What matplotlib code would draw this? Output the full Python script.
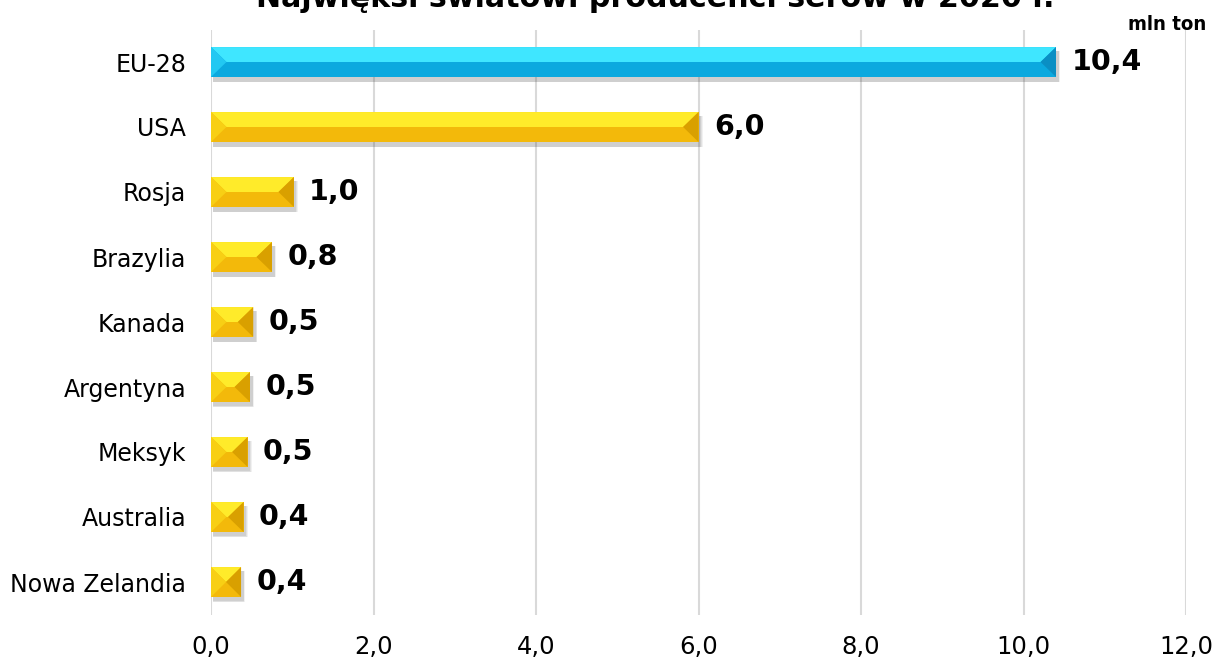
import numpy as np
import matplotlib.pyplot as plt
from matplotlib.patches import Polygon, Rectangle

# Data (mln ton)
countries = ["EU-28", "USA", "Rosja", "Brazylia", "Kanada", "Argentyna",
             "Meksyk", "Australia", "Nowa Zelandia"]
values = [10.4, 6.0, 1.02, 0.75, 0.52, 0.48, 0.45, 0.40, 0.37]
labels = ["10,4", "6,0", "1,0", "0,8", "0,5", "0,5", "0,5", "0,4", "0,4"]
xticks = [0, 2, 4, 6, 8, 10, 12]

blue = {"top": "#3FE6FF", "bottom": "#0BA9DF", "left": "#22C8F2", "right": "#0A8FC4"}
gold = {"top": "#FFEB2A", "bottom": "#F3B90A", "left": "#F8CF14", "right": "#D9A000"}

fig = plt.figure(figsize=(12.17, 6.59), dpi=100)
ax = fig.add_axes([211 / 1217, 1 - 614.5 / 659, 975 / 1217, 585 / 659])

n = len(countries)
ypos = np.arange(n)
h = 0.46
bevel = 0.19

for y, v, lab in zip(ypos, values, labels):
    c = blue if y == 0 else gold
    top, bot, mid = y - h / 2, y + h / 2, y
    d = min(bevel, v / 2)
    # soft shadow
    for k, a in zip([0.10, 0.07, 0.04], [0.08, 0.10, 0.12]):
        ax.add_patch(Rectangle((0.02, top + 0.06), v + k * 0.3, h + k * 0.25,
                               color="#555555", alpha=a, lw=0, zorder=2))
    ax.add_patch(Rectangle((0, top), v, h, color=c["bottom"], lw=0, zorder=3))
    # top face
    ax.add_patch(Polygon([(0, top), (v, top), (v - d, mid), (d, mid)],
                         closed=True, color=c["top"], lw=0, zorder=4))
    # left bevel
    ax.add_patch(Polygon([(0, top), (d, mid), (0, bot)],
                         closed=True, color=c["left"], lw=0, zorder=4))
    # right bevel
    ax.add_patch(Polygon([(v, top), (v - d, mid), (v, bot)],
                         closed=True, color=c["right"], lw=0, zorder=4))
    ax.annotate(lab, (v, y), xytext=(11, 0), textcoords="offset points",
                va="center", ha="left", fontsize=20.5, fontweight="bold",
                family="DejaVu Sans", zorder=5)

ax.set_xlim(0, 12)
ax.set_ylim(n - 0.5, -0.5)
ax.set_xticks(xticks)
ax.set_xticklabels([f"{t:.1f}".replace(".", ",") for t in xticks], fontsize=17.5)
ax.set_yticks(ypos)
ax.set_yticklabels(countries, fontsize=17)
ax.tick_params(axis="both", length=0)
ax.tick_params(axis="x", pad=15)
ax.tick_params(axis="y", pad=18)
for s in ax.spines.values():
    s.set_visible(False)
ax.grid(axis="x", color="#D9D9D9", lw=1.5, zorder=0)
ax.set_axisbelow(True)

fig.text(655 / 1217, 1 - 7 / 659, "Najwięksi światowi producenci serów w 2020 r.",
         ha="center", va="baseline", fontsize=21.7, fontweight="bold")
fig.text(1206 / 1217, 1 - 24 / 659, "mln ton", ha="right", va="center",
         fontsize=14.6, fontweight="bold", fontstretch="condensed",
         family=["DejaVu Sans Condensed", "DejaVu Sans"])

fig.savefig("out.png", dpi=100)
